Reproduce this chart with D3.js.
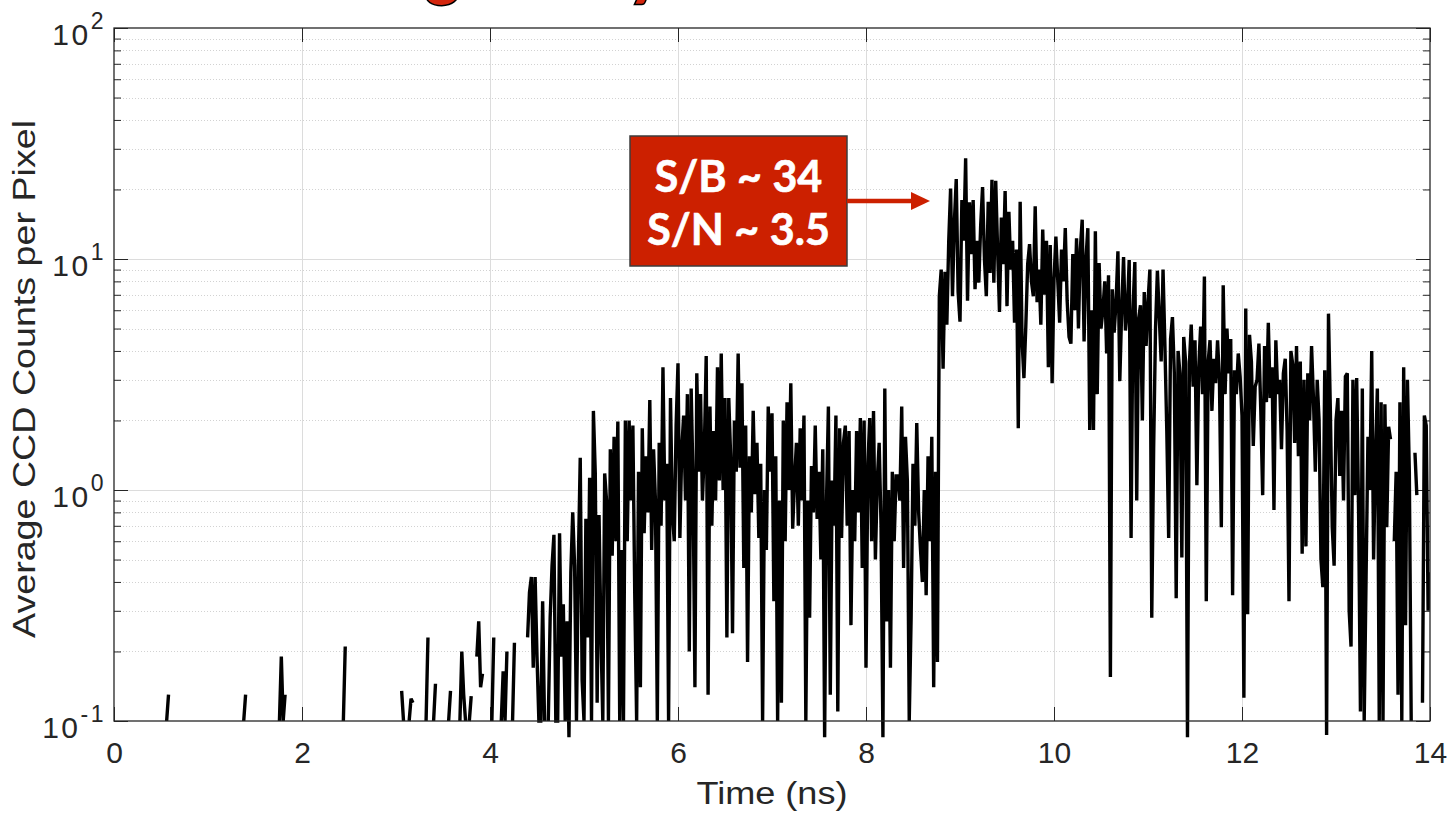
<!DOCTYPE html>
<html>
<head>
<meta charset="utf-8">
<script src="https://cdn.jsdelivr.net/npm/d3@7"></script>
<style>
  body { margin: 0; background: #fff; }
  svg { display: block; }
</style>
</head>
<body>
<svg id="chart" width="1449" height="817"></svg>
<script>
// Sampling interval of the streak-camera trace (ns)
const tStep = 0.02;

// 0.00 – 4.58 ns: background, mostly empty pixels (0 = no counts, not drawn on log axis)
const quietCounts = [
  0,0,0,0,0,0,0,0,0,0,
  0,0,0,0,0,0,0,0,0,0,
  0,0,0,0,0,0,0,0,0.1,0.13,
  0,0,0,0,0,0,0,0,0,0,
  0,0,0,0,0,0,0,0,0,0,
  0,0,0,0,0,0,0,0,0,0,
  0,0,0,0,0,0,0,0,0,0.1,
  0.13,0,0,0,0,0,0,0,0,0,
  0,0,0,0,0,0,0,0,0.1,0.19,
  0.1,0.13,0,0,0,0,0,0,0,0,
  0,0,0,0,0,0,0,0,0,0,
  0,0,0,0,0,0,0,0,0,0,
  0,0,0.1,0.21,0,0,0,0,0,0,
  0,0,0,0,0,0,0,0,0,0,
  0,0,0,0,0,0,0,0,0,0,
  0,0,0,0.135,0.1,0,0,0.1,0.125,0.12,
  0,0,0,0,0,0,0.1,0.23,0,0,
  0.1,0.145,0,0,0,0,0,0,0.1,0.135,
  0,0,0,0,0.1,0.2,0.13,0.1,0,0.1,
  0.128,0,0,0.19,0.27,0.14,0.16,0,0,0,
  0,0.1,0.23,0,0,0,0.1,0.164,0.1,0.2,
  0,0,0.1,0.218,0,0,0,0,0,0,
  0.23,0.36,0.42,0.17,0.42,0.19,0.1,0.1,0.33,0.1
];

// 4.60 – 8.78 ns: rising pre-pulse
const riseCounts = [
  0,0.1,0.28,0.47,0.64,0.1,0.1,0.65,0.19,0.32,
  0.1,0.27,0.085,0.44,0.8,0.47,0.1,0.5,1.38,0.15,
  0.1,0.75,0.23,1.13,0.1,2.2,1.18,0.12,0.78,0.24,
  0.1,1.18,0.9,0.1,1.5,0.52,1.7,0.6,1.98,0.1,
  0.55,0.1,2.0,0.6,2.0,0.9,1.9,0.35,0.1,1.2,
  0.14,1.85,0.65,1.4,0.8,2.45,0.55,1.5,0.9,0.1,
  1.6,0.7,3.4,0.9,1.3,0.1,2.5,0.8,0.6,1.9,
  3.54,0.62,1.5,2.1,0.9,2.6,0.2,2.75,1.1,0.14,
  3.2,1.2,2.6,0.9,1.5,3.8,0.13,2.3,0.7,1.8,
  0.9,3.4,1.1,3.9,1.0,2.5,0.23,2.5,1.4,0.24,
  2.0,1.2,3.9,1.25,2.9,0.46,1.9,0.18,1.4,0.8,
  2.2,0.96,1.6,0.62,1.3,0.1,1.0,0.55,2.3,1.2,
  2.15,0.33,1.4,0.1,0.9,0.12,2.0,0.6,2.4,1.0,
  2.9,0.68,1.1,1.6,0.7,1.85,0.9,2.1,0.1,0.9,
  0.28,1.27,0.8,1.9,0.75,1.2,0.5,1.5,0.085,0.9,
  2.3,0.13,1.1,0.7,2.1,0.11,1.85,0.62,1.6,1.9,
  0.7,1.8,0.26,1.0,0.6,1.8,0.8,2.05,0.46,2.0,
  0.17,1.3,2.05,0.6,2.2,0.5,1.1,1.6,0.7,0.085,
  2.75,0.27,1.0,0.17,1.2,0.6,1.15,1.15,0.9,2.3,
  0.46,1.7,1.1,0.1,0.28,1.3,0.7,1.95,0.8,0.55,
  0.4,1.0,0.35,1.4,0.6,1.7,0.14,1.2,0.18,6.9
];

// 8.80 – 14.00 ns: main signal and its decay
const signalCounts = [
  9.0,3.35,8.8,5.2,11.9,20.2,6.9,14.4,22.2,7.2,
  5.35,18,12,27.3,6.6,17.6,10.5,18,7.4,12,
  7.9,14,20.5,10,6.9,17.7,8.7,22,7.9,21.8,
  11,5.9,15.1,9.5,19.7,6.25,16,9,12,5.3,
  11,1.85,17.7,4.45,3.05,5.1,9.5,11.6,8,6.9,
  16.9,6.5,9,5.2,13.4,7,12,3.4,11.5,2.9,
  8.1,12.5,8.1,5.3,11,8,13.6,6.6,4.6,4.3,
  10.5,6,12.3,5,11,14.8,4.4,10,13.6,1.82,
  6,1.82,13.2,2.6,9.6,5,6,8,3.9,8.5,
  0.155,7.4,4.8,6.5,10.8,2.96,6,10.2,4.9,6,
  9.9,0.62,6,9.7,0.9,5.5,6.3,2.0,7.2,4.2,
  6.5,9.0,0.28,1.5,5,8.9,5.6,3.6,9.0,4.2,
  1.8,0.62,4.5,5.6,3.2,0.34,4.0,3.2,0.51,4.6,
  3.6,0.085,3.5,5.2,2.8,4.45,1.05,3.4,5.1,2.6,
  8.4,0.33,3.6,4.45,2.2,3.7,2.9,4.45,3.0,0.69,
  7.7,2.6,5.0,3.2,4.5,0.35,3.3,2.6,3.9,3.1,
  2.1,0.126,6.1,0.29,4.7,3.6,1.55,2.8,3.0,4.3,
  2.2,0.95,4.2,2.4,5.3,2.5,3.4,0.82,4.45,2.6,
  3.0,1.5,3.2,3.7,1.8,0.33,4.0,3.5,1.6,4.2,
  1.4,3.6,0.53,3.0,0.57,3.2,2.0,4.2,2.5,1.2,
  3.0,2.0,0.5,0.38,3.3,0.087,5.8,2.2,0.69,0.47,
  2.0,2.5,1.15,2.2,0.9,3.1,3.2,0.3,0.21,3.0,
  0.95,3.05,0.82,0.11,2.75,0.1,0.42,1.7,1.0,4.0,
  0.5,1.4,2.75,0.1,2.4,0.1,2.35,0.69,1.88,1.66,
  0,0.6,1.2,0.13,2.4,0.1,3.4,0.26,3.0,1.2,
  0.1,0,1.45,0.95,0,0,0.12,2.1,1.9,0.3,
  0.44
];

const xTicks = [0, 2, 4, 6, 8, 10, 12, 14];
const yDecades = [-1, 0, 1, 2];
const yMinorMultipliers = [2, 3, 4, 5, 6, 7, 8, 9];
const xLabel = "Time (ns)";
const yLabel = "Average CCD Counts per Pixel";
const noteLines = ["S/B ~ 34", "S/N ~ 3.5"];
const headingGlyphs = ["g", "y"];

// ---- layout ----
const W = 1449, H = 817;
const plot = { left: 114, right: 1430, top: 28, bottom: 721 };
const axisColor = "#262626";
const tickFont = "'Liberation Sans', Arial, Helvetica, sans-serif";

const svg = d3.select("#chart");
svg.append("rect").attr("width", W).attr("height", H).attr("fill", "#fff");

const x = d3.scaleLinear().domain([0, 14]).range([plot.left, plot.right]);
const y = d3.scaleLog().domain([0.1, 100]).range([plot.bottom, plot.top]);

const counts = quietCounts.concat(riseCounts, signalCounts);
const series = counts.map((v, i) => ({ t: i * tStep, v }));

const minorVals = [];
yDecades.slice(0, -1).forEach(k => yMinorMultipliers.forEach(m => minorVals.push(m * Math.pow(10, k))));
const majorVals = yDecades.map(k => Math.pow(10, k));

// ---- grid ----
const grid = svg.append("g");
grid.selectAll("line.minor").data(minorVals).join("line")
  .attr("x1", plot.left).attr("x2", plot.right)
  .attr("y1", d => Math.round(y(d)) + 0.5).attr("y2", d => Math.round(y(d)) + 0.5)
  .attr("stroke", "#d2d2d2").attr("stroke-width", 1).attr("stroke-dasharray", "1,2");
grid.selectAll("line.majy").data(majorVals.slice(1, -1)).join("line")
  .attr("x1", plot.left).attr("x2", plot.right)
  .attr("y1", d => Math.round(y(d)) + 0.5).attr("y2", d => Math.round(y(d)) + 0.5)
  .attr("stroke", "#dcdcdc").attr("stroke-width", 1);
grid.selectAll("line.majx").data(xTicks.slice(1, -1)).join("line")
  .attr("x1", d => Math.round(x(d)) + 0.5).attr("x2", d => Math.round(x(d)) + 0.5)
  .attr("y1", plot.top).attr("y2", plot.bottom)
  .attr("stroke", "#dcdcdc").attr("stroke-width", 1);

// ---- axes (ticks point inward) ----
function styleAxis(g) {
  g.select(".domain").remove();
  g.selectAll(".tick line").attr("stroke", axisColor).attr("stroke-width", 1);
}
svg.append("g").attr("transform", `translate(0,${plot.bottom})`)
  .call(d3.axisBottom(x).tickValues(xTicks).tickSize(-14).tickPadding(21).tickFormat(d3.format("d")))
  .call(styleAxis)
  .call(g => g.selectAll("text").attr("fill", axisColor)
    .attr("font-family", tickFont).attr("font-size", 30));
svg.append("g").attr("transform", `translate(0,${plot.top})`)
  .call(d3.axisTop(x).tickValues(xTicks).tickSize(-14).tickFormat(""))
  .call(styleAxis);
svg.append("g").attr("transform", `translate(${plot.left},0)`)
  .call(d3.axisLeft(y).tickValues(majorVals).tickSize(-14).tickFormat(""))
  .call(styleAxis);
svg.append("g").attr("transform", `translate(${plot.left},0)`)
  .call(d3.axisLeft(y).tickValues(minorVals).tickSize(-7).tickFormat(""))
  .call(styleAxis);
svg.append("g").attr("transform", `translate(${plot.right},0)`)
  .call(d3.axisRight(y).tickValues(majorVals).tickSize(-14).tickFormat(""))
  .call(styleAxis);
svg.append("g").attr("transform", `translate(${plot.right},0)`)
  .call(d3.axisRight(y).tickValues(minorVals).tickSize(-7).tickFormat(""))
  .call(styleAxis);

// y tick labels as powers of ten
const yl = svg.append("g").attr("font-family", tickFont).attr("fill", axisColor);
yDecades.forEach(k => {
  const t = yl.append("text")
    .attr("x", 106).attr("y", y(Math.pow(10, k)) + 17)
    .attr("text-anchor", "end").attr("font-size", 30).attr("letter-spacing", 2.5);
  t.append("tspan").text("10");
  t.append("tspan").attr("dy", -16).attr("font-size", 23).text(String(k));
});

// axis titles (glyphs widened to the measured label lengths)
svg.append("text")
  .attr("x", (plot.left + plot.right) / 2).attr("y", 804)
  .attr("text-anchor", "middle").attr("font-family", tickFont).attr("font-size", 31)
  .attr("textLength", 151).attr("lengthAdjust", "spacingAndGlyphs")
  .attr("fill", axisColor).text(xLabel);
svg.append("text")
  .attr("transform", "translate(35,379) rotate(-90)")
  .attr("text-anchor", "middle").attr("font-family", tickFont).attr("font-size", 31)
  .attr("textLength", 518).attr("lengthAdjust", "spacingAndGlyphs")
  .attr("fill", axisColor).text(yLabel);

// ---- trace ----
svg.append("clipPath").attr("id", "plotClip").append("rect")
  .attr("x", plot.left).attr("y", plot.top)
  .attr("width", plot.right - plot.left).attr("height", plot.bottom - plot.top + 18);

const line = d3.line()
  .defined(d => d.v > 0)
  .x(d => x(d.t))
  .y(d => y(d.v));

svg.append("path")
  .datum(series)
  .attr("clip-path", "url(#plotClip)")
  .attr("fill", "none").attr("stroke", "#000").attr("stroke-width", 3.4)
  .attr("stroke-linejoin", "miter").attr("stroke-miterlimit", 2)
  .attr("d", line);

// axes box
svg.append("rect")
  .attr("x", plot.left).attr("y", plot.top)
  .attr("width", plot.right - plot.left).attr("height", plot.bottom - plot.top)
  .attr("fill", "none").attr("stroke", axisColor).attr("stroke-width", 1.3);

// ---- slide heading remnants above the axes ----
const heading = svg.append("g")
  .attr("font-family", "Lato, 'Open Sans', sans-serif").attr("font-weight", 700)
  .attr("font-size", 66).attr("fill", "#d4260e").attr("stroke", "#000")
  .attr("stroke-width", 3).attr("paint-order", "stroke");
heading.append("text").attr("x", 425).attr("y", -8).text(headingGlyphs[0]);
heading.append("text").attr("x", 628).attr("y", -8).text(headingGlyphs[1]);

// ---- callout ----
const red = "#cc2000";
const note = svg.append("g");
note.append("rect").attr("x", 630).attr("y", 136).attr("width", 217).attr("height", 130)
  .attr("fill", red).attr("stroke", "#3c3c3c").attr("stroke-width", 1.5);
note.selectAll("text").data(noteLines).join("text")
  .attr("x", 738.5).attr("y", (d, i) => 191.5 + i * 53.5)
  .attr("text-anchor", "middle").attr("font-family", "Lato, 'Open Sans', sans-serif")
  .attr("font-weight", 700).attr("font-size", 43).attr("fill", "#fff")
  .attr("stroke", "#fff").attr("stroke-width", 0.6).text(d => d);
note.append("line").attr("x1", 847).attr("x2", 913).attr("y1", 201).attr("y2", 201)
  .attr("stroke", red).attr("stroke-width", 4.3);
note.append("path").attr("d", "M911,192 L930,201 L911,210 Z").attr("fill", red);
</script>
</body>
</html>
